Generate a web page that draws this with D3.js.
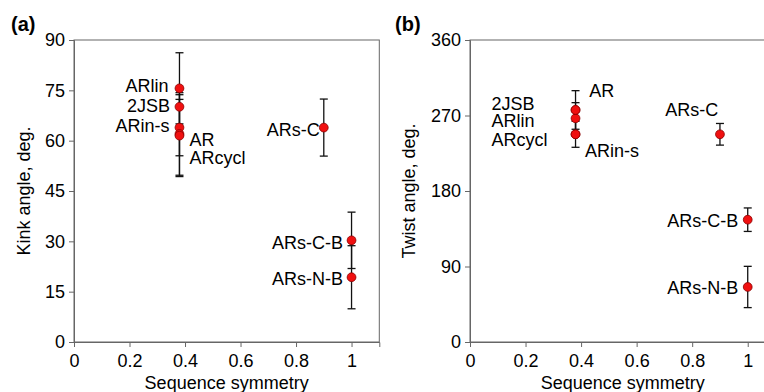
<!DOCTYPE html>
<html>
<head>
<meta charset="utf-8">
<script src="https://cdn.jsdelivr.net/npm/d3@7"></script>
<style>
  html, body { margin: 0; padding: 0; background: #fff; }
  svg { display: block; }
  text { font-family: "Liberation Sans", Arial, Helvetica, sans-serif; fill: #000; }
</style>
</head>
<body>
<svg id="chart" width="764" height="392"></svg>
<script>
// ---------- data ----------
const categories  = ["ARlin", "2JSB", "ARin-s", "AR", "ARcycl", "ARs-C", "ARs-C-B", "ARs-N-B"];
const symmetry    = [0.38, 0.38, 0.38, 0.38, 0.38, 0.9, 1.0, 1.0];
const kinkAngle   = [75.6, 70.1, 63.9, 62.0, 61.5, 63.9, 30.3, 19.3];
const kinkError   = [10.6, 0, 8.4, 12.3, 12.2, 8.5, 8.4, 9.4];
const twistAngle  = [266.7, 276.6, 247.6, 276.6, 247.6, 247.6, 145.8, 65.6];
const twistError  = [18.6, 0, 15.5, 23.0, 0, 12.9, 14.0, 24.6];

const symTicks       = [0, 0.2, 0.4, 0.6, 0.8, 1];
const symTickLabels  = ["0", "0.2", "0.4", "0.6", "0.8", "1"];
const kinkTicks      = [0, 15, 30, 45, 60, 75, 90];
const twistTicks     = [0, 90, 180, 270, 360];

// ---------- label layout (pixel offsets from each point) ----------
const kinkLabelLayout = [
  {anchor: "end",   dx: -11,  dy: -2.6},
  {anchor: "end",   dx: -9.5, dy: -1.3},
  {anchor: "end",   dx: -10,  dy: -1.8},
  {anchor: "start", dx: 10,   dy: 6},
  {anchor: "start", dx: 10,   dy: 22},
  {anchor: "end",   dx: -4,   dy: 2.2},
  {anchor: "end",   dx: -8.5, dy: 1.9},
  {anchor: "end",   dx: -8.5, dy: 1.1}
];
const twistLabelLayout = [
  {anchor: "start", dx: -84,  dy: 2.4},
  {anchor: "start", dx: -84,  dy: -6.7},
  {anchor: "start", dx: 9.5,  dy: 16.4},
  {anchor: "start", dx: 13.8, dy: -19.3},
  {anchor: "start", dx: -84,  dy: 5.7},
  {anchor: "end",   dx: -1.6, dy: -24.3},
  {anchor: "end",   dx: -9.4, dy: 1},
  {anchor: "end",   dx: -9.4, dy: 0.3}
];

const svg = d3.select("#chart");
const FONT = 18;

function drawPanel(cfg) {
  const g = svg.append("g").attr("transform", `translate(${cfg.left},${cfg.top})`);
  const x = d3.scaleLinear().domain([0, 1.1]).range([0, cfg.width]);
  const y = d3.scaleLinear().domain(cfg.yDomain).range([cfg.height, 0]);

  // frame
  g.append("rect")
    .attr("x", 0).attr("y", 0)
    .attr("width", cfg.width).attr("height", cfg.height)
    .attr("fill", "none").attr("stroke", "#666").attr("stroke-width", 1);

  // axes
  const xAxis = d3.axisBottom(x).tickValues(symTicks)
    .tickFormat((d, i) => symTickLabels[i]).tickSize(5).tickPadding(7);
  const gx = g.append("g").attr("transform", `translate(0,${cfg.height})`).call(xAxis);
  const yAxis = d3.axisLeft(y).tickValues(cfg.yTicks).tickFormat(d3.format("d"))
    .tickSize(5).tickPadding(4);
  const gy = g.append("g").call(yAxis);
  [gx, gy].forEach(a => {
    a.select(".domain").attr("stroke", "#666");
    a.selectAll(".tick line").attr("stroke", "#666");
    a.selectAll(".tick text").attr("font-size", FONT).attr("fill", "#000")
      .style("font-family", '"Liberation Sans", Arial, sans-serif');
  });

  // error bars
  const cap = 4;
  const eb = g.append("g").attr("stroke", "#111").attr("stroke-width", 1.3).attr("fill", "none");
  categories.forEach((c, i) => {
    const e = cfg.err[i];
    if (!e) return;
    const cx = x(symmetry[i]);
    const yt = y(cfg.values[i] + e), yb = y(cfg.values[i] - e);
    eb.append("line").attr("x1", cx).attr("x2", cx).attr("y1", yt).attr("y2", yb);
    eb.append("line").attr("x1", cx - cap).attr("x2", cx + cap).attr("y1", yt).attr("y2", yt);
    eb.append("line").attr("x1", cx - cap).attr("x2", cx + cap).attr("y1", yb).attr("y2", yb);
  });

  // points
  g.append("g").selectAll("circle")
    .data(categories)
    .join("circle")
    .attr("cx", (d, i) => x(symmetry[i]))
    .attr("cy", (d, i) => y(cfg.values[i]))
    .attr("r", 4.4)
    .attr("fill", "#f01010")
    .attr("stroke", "#8a0000")
    .attr("stroke-width", 0.8);

  // point labels
  g.append("g").selectAll("text")
    .data(categories)
    .join("text")
    .attr("x", (d, i) => x(symmetry[i]) + cfg.layout[i].dx)
    .attr("y", (d, i) => y(cfg.values[i]) + cfg.layout[i].dy + FONT * 0.355)
    .attr("text-anchor", (d, i) => cfg.layout[i].anchor)
    .attr("font-size", FONT)
    .text(d => d);

  // axis titles
  g.append("text")
    .attr("x", cfg.width / 2).attr("y", 347 - cfg.top + 42)
    .attr("text-anchor", "middle").attr("font-size", FONT)
    .text("Sequence symmetry");
  g.append("text")
    .attr("transform", `translate(${cfg.yTitleX - cfg.left},${191 - cfg.top}) rotate(-90)`)
    .attr("text-anchor", "middle").attr("font-size", FONT)
    .text(cfg.yTitle);

  // panel letter
  svg.append("text")
    .attr("x", cfg.letterX).attr("y", 31)
    .attr("font-size", 20).attr("font-weight", "bold")
    .text(cfg.letter);
}

drawPanel({
  left: 74, top: 40, width: 305.3, height: 302,
  yDomain: [0, 90], yTicks: kinkTicks,
  values: kinkAngle, err: kinkError, layout: kinkLabelLayout,
  yTitle: "Kink angle, deg.", yTitleX: 30, letter: "(a)", letterX: 11
});
drawPanel({
  left: 470, top: 40, width: 305.5, height: 302,
  yDomain: [0, 360], yTicks: twistTicks,
  values: twistAngle, err: twistError, layout: twistLabelLayout,
  yTitle: "Twist angle, deg.", yTitleX: 414.5, letter: "(b)", letterX: 395
});
</script>
</body>
</html>
